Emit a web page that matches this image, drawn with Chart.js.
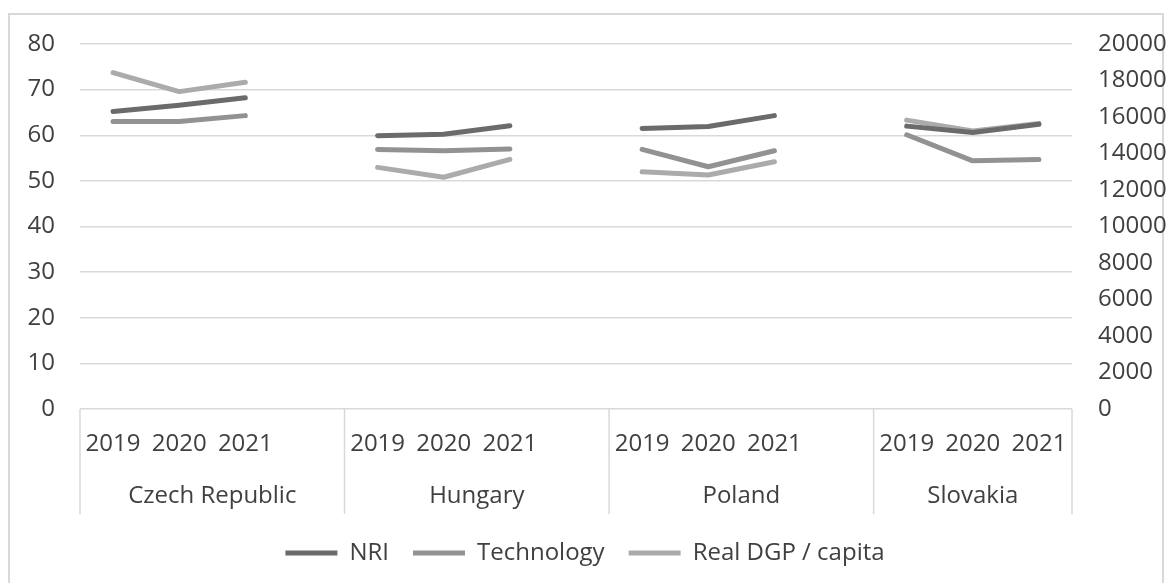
<!DOCTYPE html>
<html>
<head>
<meta charset="utf-8">
<script src="https://cdn.jsdelivr.net/npm/chart.js@4"></script>
<style>
  html, body { margin: 0; padding: 0; background: #fff; }
  #wrap { position: relative; width: 1170px; height: 583px; overflow: hidden; }
  #frame { position: absolute; left: 8px; top: 13px; width: 1152px; height: 600px; border: 2px solid #d9d9d9; }
  #chart { position: absolute; left: 0; top: 0; }
</style>
</head>
<body>
<div id="wrap">
  <div id="frame"></div>
  <canvas id="chart" width="1170" height="583"></canvas>
</div>
<script>
// データ
const countries = ["Czech Republic", "Hungary", "Poland", "Slovakia"];
const years = ["2019", "2020", "2021"];

// 国ごとの間に空の列が入る (Excel の元グラフと同じ)
const nri = [65.2, 66.6, 68.2, null, 59.9, 60.2, 62.1, null, 61.5, 61.9, 64.3, null, 62.0, 60.6, 62.4];
const technology = [63.0, 63.0, 64.3, null, 56.9, 56.6, 57.0, null, 56.9, 53.1, 56.6, null, 60.1, 54.4, 54.7];
const realGdp = [18430, 17390, 17900, null, 13240, 12700, 13680, null, 13000, 12820, 13550, null, 15830, 15230, 15650];

const labels = [];
countries.forEach((c, i) => {
    years.forEach((y) => labels.push(y));
    if (i < countries.length - 1) labels.push("");
});

const FONT = '"Open Sans", "Noto Sans", sans-serif';
const FSIZE = 24;
const TEXT = "#404040";
const GRID = "#d9d9d9";

// 国名と区切り線
const groupLabels = {
    id: "groupLabels",
    afterDraw(chart) {
        const x = chart.scales.x;
        const ctx = chart.ctx;
        const top = chart.chartArea.bottom;
        const edges = countries.map((c, i) => x.getPixelForValue(i * 4 - 0.5));
        edges.push(x.getPixelForValue(labels.length - 0.5));

        ctx.save();
        ctx.strokeStyle = GRID;
        ctx.lineWidth = 1.5;
        edges.forEach((px) => {
            ctx.beginPath();
            ctx.moveTo(px, top);
            ctx.lineTo(px, top + 105);
            ctx.stroke();
        });
        ctx.fillStyle = TEXT;
        ctx.font = FSIZE + "px " + FONT;
        ctx.textAlign = "center";
        ctx.textBaseline = "alphabetic";
        countries.forEach((c, i) => {
            ctx.fillText(c, (edges[i] + edges[i + 1]) / 2, top + 94);
        });
        ctx.restore();
    },
};

function series(label, data, color, axis) {
    return {
        label: label,
        data: data,
        yAxisID: axis,
        borderColor: color,
        backgroundColor: color,
        borderWidth: 5,
        borderCapStyle: "round",
        borderJoinStyle: "round",
        pointRadius: 0,
        tension: 0,
        spanGaps: false,
    };
}

const ctx = document.getElementById("chart").getContext("2d");
new Chart(ctx, {
    type: "line",
    data: {
        labels: labels,
        datasets: [
            series("NRI", nri, "#6b6b6b", "y"),
            series("Technology", technology, "#929292", "y"),
            series("Real DGP / capita", realGdp, "#ababab", "y1"),
        ],
    },
    options: {
        responsive: false,
        animation: false,
        layout: { padding: { top: 44, left: 0, right: 0, bottom: 8 } },
        plugins: {
            tooltip: { enabled: false },
            legend: {
                position: "bottom",
                labels: {
                    color: TEXT,
                    font: { family: FONT, size: FSIZE },
                    boxWidth: 52,
                    boxHeight: 5,
                    padding: 24,
                    generateLabels(chart) {
                        const items = Chart.defaults.plugins.legend.labels.generateLabels(chart);
                        items.forEach((it) => { it.lineWidth = 0; });
                        return items;
                    },
                },
            },
        },
        scales: {
            x: {
                offset: true,
                grid: { display: false },
                border: { display: false },
                ticks: {
                    color: TEXT,
                    font: { family: FONT, size: FSIZE },
                    padding: 13,
                    maxRotation: 0,
                    autoSkip: false,
                },
                afterFit(scale) { scale.height = 108; },
            },
            y: {
                position: "left",
                min: 0,
                max: 80,
                ticks: { stepSize: 10, color: TEXT, font: { family: FONT, size: FSIZE }, padding: 25 },
                grid: { color: GRID, lineWidth: 1.5, drawTicks: false },
                border: { display: false },
                afterFit(scale) { scale.width = 80; },
            },
            y1: {
                position: "right",
                min: 0,
                max: 20000,
                ticks: {
                    stepSize: 2000,
                    color: TEXT,
                    font: { family: FONT, size: FSIZE },
                    padding: 26,
                    callback: (v) => String(v),
                },
                grid: { drawOnChartArea: false, drawTicks: false },
                border: { display: false },
                afterFit(scale) { scale.width = 98; },
            },
        },
    },
    plugins: [groupLabels],
});
</script>
</body>
</html>
